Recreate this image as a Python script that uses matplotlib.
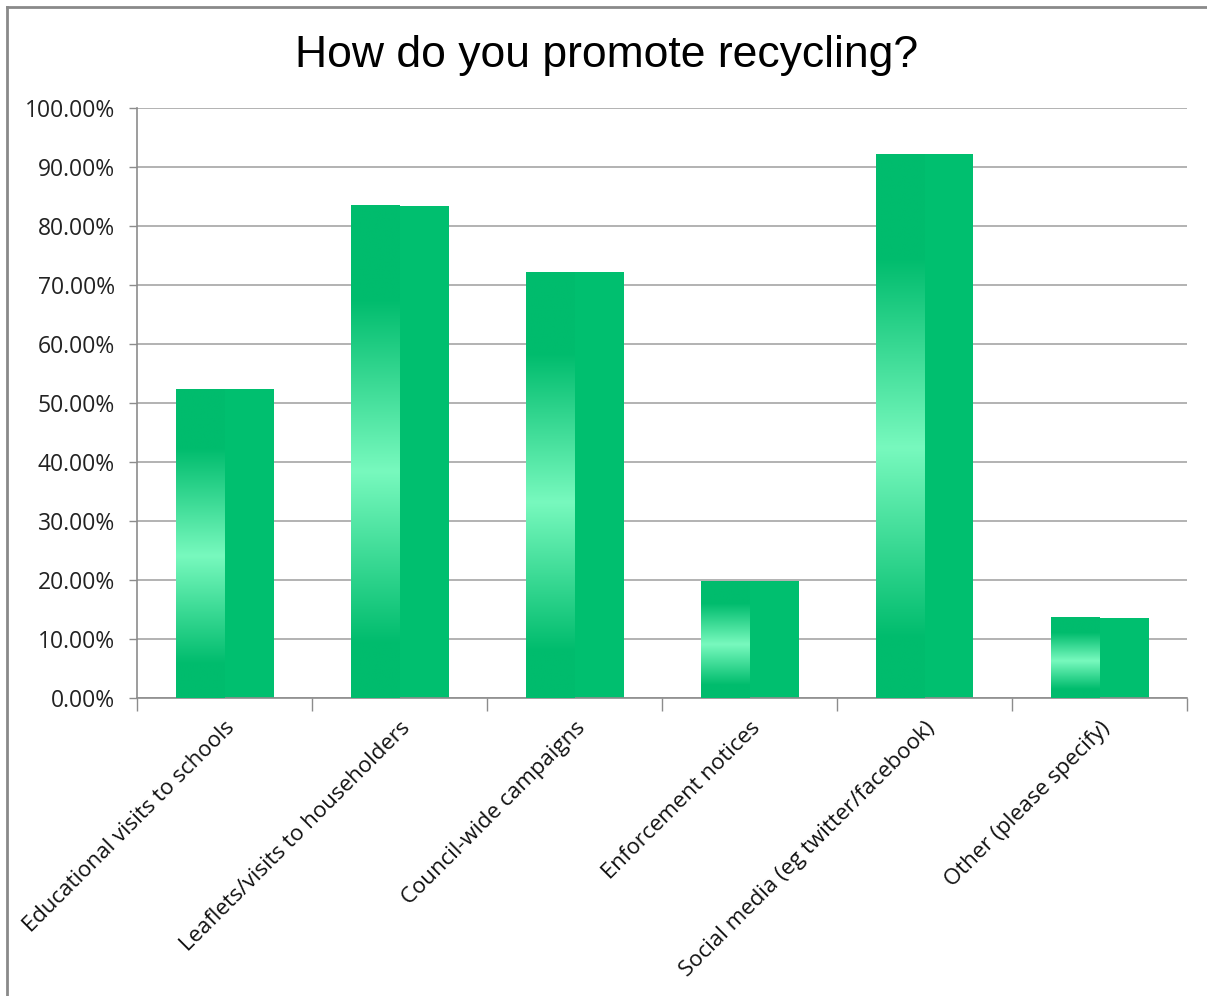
import numpy as np
import matplotlib
matplotlib.use("Agg")
import matplotlib.pyplot as plt
from matplotlib.colors import LinearSegmentedColormap
from matplotlib.lines import Line2D
from matplotlib.ticker import FixedLocator, FuncFormatter

categories = [
    "Educational visits to schools",
    "Leaflets/visits to householders",
    "Council-wide campaigns",
    "Enforcement notices",
    "Social media (eg twitter/facebook)",
    "Other (please specify)",
]
values = [52.3, 83.4, 72.2, 19.8, 92.2, 13.6]
y_ticks = [0, 10, 20, 30, 40, 50, 60, 70, 80, 90, 100]
title = "How do you promote recycling?"

bar_green = "#00BF6F"
edge_green = "#00BC6D"
mint = "#78F9BE"
grid_gray = "#A6A6A6"
axis_gray = "#8C8C8C"

fig = plt.figure(figsize=(12.07, 9.96), dpi=100)
ax = fig.add_axes([137 / 1207, 1 - 698 / 996, 1050 / 1207, 590 / 996])

# vertical sheen for the left half of each bar: dark at ends, mint near the middle
sheen = LinearSegmentedColormap.from_list(
    "sheen",
    [(0.0, edge_green), (0.11, edge_green), (0.46, mint), (0.81, edge_green), (1.0, edge_green)],
)
grad = np.linspace(0, 1, 256).reshape(-1, 1)

x = np.arange(len(categories))
width = 0.56
ax.bar(x, values, width=width, color=bar_green, zorder=2)
for xi, v in zip(x, values):
    ax.imshow(grad, cmap=sheen, aspect="auto", origin="lower",
              extent=[xi - width / 2, xi, 0, v], zorder=3, interpolation="bilinear")

ax.set_xlim(-0.5, len(categories) - 0.5)
ax.set_ylim(0, 100)

ax.set_yticks(y_ticks)
ax.yaxis.set_major_formatter(FuncFormatter(lambda v, p: f"{v:.2f}%"))
ax.yaxis.grid(True, color=grid_gray, linewidth=1.2, zorder=0)
ax.set_axisbelow(True)
ax.tick_params(axis="y", direction="out", length=6, width=1, color=axis_gray,
               pad=10, labelsize=16.5, labelcolor="#222222")

ax.set_xticks(x)
ax.set_xticklabels(categories, rotation=45, ha="right", va="top",
                   rotation_mode="anchor", fontsize=16, color="#111111")
ax.tick_params(axis="x", which="major", length=0, pad=14)
ax.xaxis.set_minor_locator(FixedLocator(np.arange(len(categories) + 1) - 0.5))
ax.tick_params(axis="x", which="minor", direction="out", length=9, width=1, color=axis_gray)

for lbl in ax.get_xticklabels() + ax.get_yticklabels():
    lbl.set_fontfamily(["Open Sans", "DejaVu Sans"])

for side in ("top", "right"):
    ax.spines[side].set_visible(False)
for side in ("left", "bottom"):
    ax.spines[side].set_color(axis_gray)
    ax.spines[side].set_linewidth(1.2)

fig.text(607 / 1207, 1 - 56 / 996, title, ha="center", va="center",
         fontsize=32, family=["Liberation Sans", "DejaVu Sans"], color="#000000")

# chart frame (top and left edges)
fig.add_artist(Line2D([7 / 1207, 1.0], [1 - 7 / 996, 1 - 7 / 996],
                      transform=fig.transFigure, color="#8A8A8A", linewidth=2))
fig.add_artist(Line2D([7 / 1207, 7 / 1207], [0, 1 - 7 / 996],
                      transform=fig.transFigure, color="#8A8A8A", linewidth=2))

fig.savefig("out.png", dpi=100, facecolor="white")
